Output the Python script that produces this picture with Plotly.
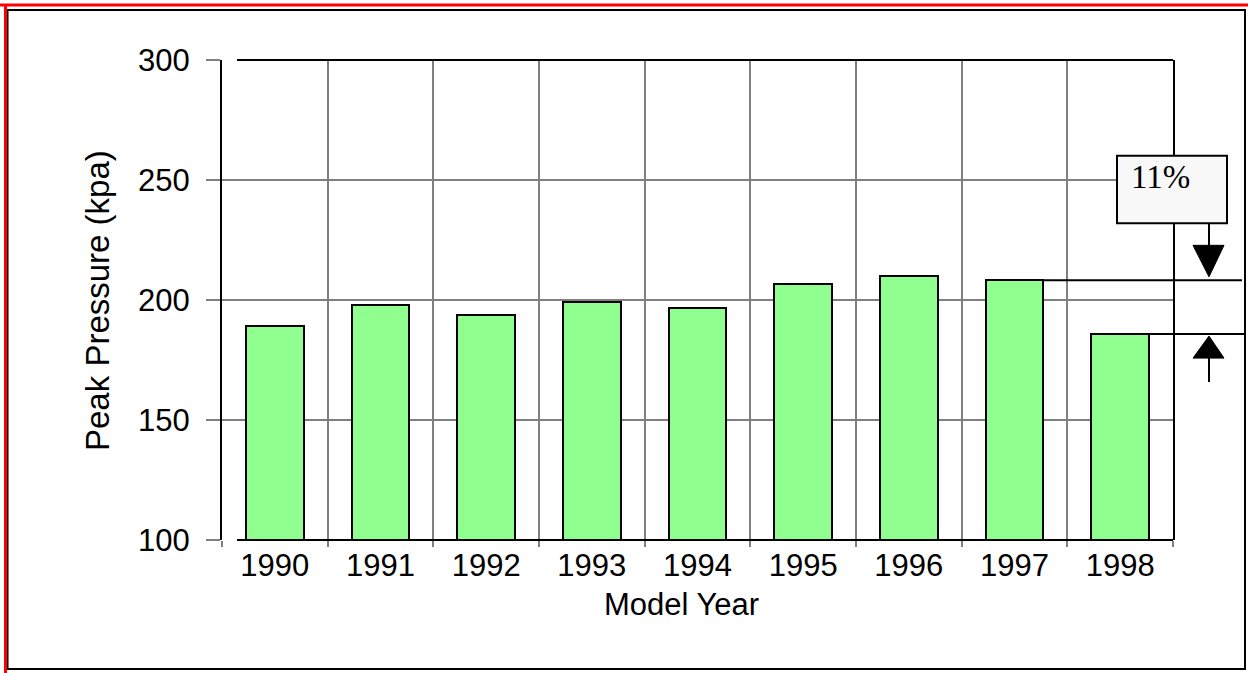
import plotly.graph_objects as go

# ---- data ----
years = ["1990", "1991", "1992", "1993", "1994", "1995", "1996", "1997", "1998"]
peak_pressure = [189.3, 197.8, 193.6, 199.3, 196.5, 206.7, 210.1, 208.2, 185.8]
y_ticks = [100, 150, 200, 250, 300]
reduction_label = "11%"

# ---- geometry helpers (pixel -> paper) ----
W, H = 1248, 673
L, R, T, B = 222, 1173, 60, 540
def px(x):
    return (x - L) / (R - L)
def py(y):
    return (B - y) / (B - T)

FONT = "Liberation Sans, Arial, sans-serif"
BAR_W = 0.546

fig = go.Figure()
fig.add_trace(go.Bar(
    x=years, y=peak_pressure, width=BAR_W,
    marker=dict(color="#90ff90", line=dict(color="black", width=2)),
    hoverinfo="x+y",
))

shapes = []
# outer frames
shapes.append(dict(type="line", xref="paper", yref="paper", x0=px(0), x1=px(W), y0=py(5), y1=py(5),
                   line=dict(color="#ff0000", width=3)))
shapes.append(dict(type="line", xref="paper", yref="paper", x0=px(5.5), x1=px(5.5), y0=py(5), y1=py(H),
                   line=dict(color="#ff0000", width=3)))
shapes.append(dict(type="rect", xref="paper", yref="paper", x0=px(7.5), x1=px(1245), y0=py(10), y1=py(669),
                   line=dict(color="black", width=2), layer="below"))
# top / bottom frame lines of the plot
for yy in (T, B):
    shapes.append(dict(type="line", xref="paper", yref="paper", x0=px(237), x1=px(R), y0=py(yy), y1=py(yy),
                       line=dict(color="black", width=2), layer="above"))

# reference lines from the 1997 and 1998 bar tops
n = len(years)
i97, i98 = years.index("1997"), years.index("1998")
for idx, xend in ((i97, 1242), (i98, 1245)):
    x_start = (idx + 0.5 + BAR_W / 2) / n
    shapes.append(dict(type="line", xref="paper", yref="y", x0=x_start, x1=px(xend),
                       y0=peak_pressure[idx], y1=peak_pressure[idx],
                       line=dict(color="black", width=2), layer="above"))

# label box
shapes.append(dict(type="rect", xref="paper", yref="paper", x0=px(1117), x1=px(1227), y0=py(155.7), y1=py(223.3),
                   fillcolor="#f8f8f8", line=dict(color="black", width=2), layer="above"))

# arrows (positions tied to the data lines)
ax = 1209
unit = (B - T) / (y_ticks[-1] - y_ticks[0])  # px per kPa
def yv(v, dpx):
    # data value shifted by dpx pixels (positive = up)
    return v + dpx / unit
v97, v98 = peak_pressure[i97], peak_pressure[i98]
# down arrow
shapes.append(dict(type="line", xref="paper", yref="paper", x0=px(ax), x1=px(ax), y0=py(223.3), y1=py(246),
                   line=dict(color="black", width=2), layer="above"))
shapes.append(dict(type="path", xref="paper", yref="y",
                   path=f"M {px(ax-16)} {yv(v97, 35)} L {px(ax+15)} {yv(v97, 35)} L {px(ax)} {yv(v97, 3.5)} Z",
                   fillcolor="black", line=dict(color="black", width=1), layer="above"))
# up arrow
shapes.append(dict(type="path", xref="paper", yref="y",
                   path=f"M {px(ax-16)} {yv(v98, -24)} L {px(ax+15)} {yv(v98, -24)} L {px(ax)} {yv(v98, -2)} Z",
                   fillcolor="black", line=dict(color="black", width=1), layer="above"))
shapes.append(dict(type="line", xref="paper", yref="y", x0=px(ax), x1=px(ax), y0=yv(v98, -23), y1=yv(v98, -48),
                   line=dict(color="black", width=2), layer="above"))

annotations = [
    dict(text=reduction_label, xref="paper", yref="paper", x=px(1129), y=py(177), xanchor="left", yanchor="middle",
         showarrow=False, font=dict(family="Liberation Serif, Times New Roman, serif", size=33, color="black")),
    dict(text="Model Year", xref="paper", yref="paper", x=px(681), y=py(604), xanchor="center", yanchor="middle",
         showarrow=False, font=dict(family=FONT, size=31, color="black")),
    dict(text="Peak Pressure (kpa)", xref="paper", yref="paper", x=px(97), y=py(301), xanchor="center",
         yanchor="middle", textangle=-90, showarrow=False, font=dict(family=FONT, size=33, color="black")),
]

fig.update_layout(
    width=W, height=H,
    margin=dict(l=L, r=W - R, t=T, b=H - B, pad=0),
    paper_bgcolor="white", plot_bgcolor="white",
    showlegend=False,
    font=dict(family=FONT, size=31, color="black"),
    shapes=shapes, annotations=annotations,
    bargap=0,
)
fig.update_xaxes(
    type="category", range=[-0.5, n - 0.5], tickson="boundaries",
    showgrid=True, gridcolor="#808080", gridwidth=2,
    ticks="outside", ticklen=6, tickwidth=2, tickcolor="#808080",
    showline=False, zeroline=False, ticklabelstandoff=4,
    tickfont=dict(family=FONT, size=31, color="black"),
)
fig.update_yaxes(
    range=[y_ticks[0], y_ticks[-1]], tickvals=y_ticks,
    showgrid=True, gridcolor="#808080", gridwidth=2,
    ticks="outside", ticklen=14, tickwidth=2, tickcolor="#808080",
    showline=True, linecolor="black", linewidth=2, mirror=True,
    zeroline=False, ticklabelstandoff=10,
    tickfont=dict(family=FONT, size=31, color="black"),
)

fig.write_html("out.html", config={"displayModeBar": False},
               post_script="document.body.style.margin='0';document.body.style.overflow='hidden';")
